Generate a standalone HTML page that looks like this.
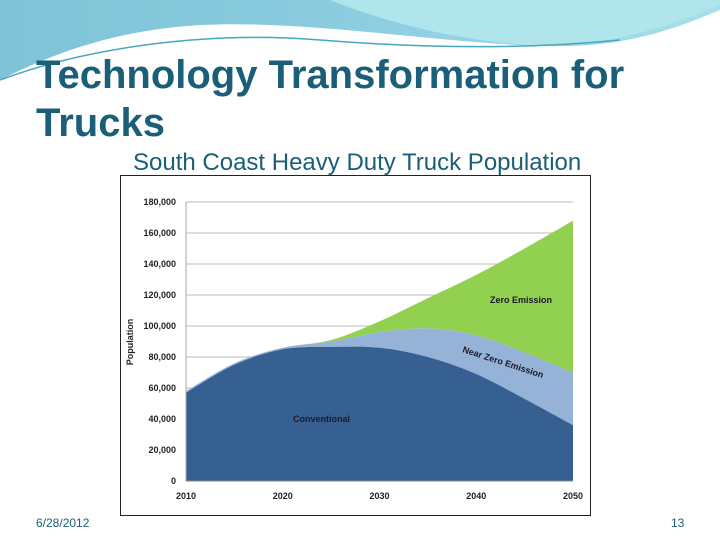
<!DOCTYPE html>
<html><head><meta charset="utf-8"><style>
body{margin:0;width:720px;height:540px;overflow:hidden;background:#fff;font-family:"Liberation Sans",sans-serif;position:relative}
#title{position:absolute;left:36px;top:51px;font-size:40px;font-weight:bold;color:#1b5e77;line-height:48px;margin:0}
#sub{position:absolute;left:133px;top:150px;font-size:24px;color:#1b5e77;line-height:26px}
.foot{position:absolute;top:516px;font-size:12px;color:#1b5e77}
</style></head><body>
<svg width="720" height="90" style="position:absolute;left:0;top:0">
<defs><linearGradient id="g1" x1="0" x2="1"><stop offset="0" stop-color="#7ec3d6"/><stop offset="0.5" stop-color="#8ccde0"/><stop offset="1" stop-color="#a6e0ea"/></linearGradient></defs>
<path d="M0 0H720V10C650 40 600 50 520 45C420 40 300 20 200 25C120 30 60 50 0 80Z" fill="url(#g1)"/>
<path d="M330 0C380 20 450 40 530 45C600 48 660 30 720 5V0Z" fill="#b0e5ec"/>
<path d="M0 80C80 50 200 30 320 40C420 48 520 50 620 40" stroke="#4aa6bf" fill="none" stroke-width="1.5"/>
</svg>
<h1 id="title">Technology Transformation for<br>Trucks</h1>
<div id="sub">South Coast Heavy Duty Truck Population</div>
<svg id="chart" width="720" height="540" style="position:absolute;left:0;top:0"></svg>
<div class="foot" style="left:36px">6/28/2012</div>
<div class="foot" style="left:671px">13</div>
<script>
const years=[2010,2015,2020,2025,2030,2035,2040,2045,2050];
const conventional=[57000,75000,85000,86500,86000,80000,69000,53000,36000];
const nearZero=[1000,1000,1000,3500,10000,18500,25000,30000,34000];
const zeroEmission=[0,0,0,1000,7000,19500,39000,67000,98000];
const yTicks=[0,20000,40000,60000,80000,100000,120000,140000,160000,180000];
const xTicks=[2010,2020,2030,2040,2050];
const NS="http://www.w3.org/2000/svg";
const svg=document.getElementById('chart');
const X=v=>186+(v-2010)*(573-186)/40;
const Y=v=>481-v*(481-202)/180000;
function mk(t,a,p){const e=document.createElementNS(NS,t);for(const k in a)e.setAttribute(k,a[k]);(p||svg).appendChild(e);return e;}
const box=mk('rect',{x:120.5,y:175.5,width:470,height:340,fill:'#fff',stroke:'#222'});


yTicks.forEach(v=>{if(v>0){const l=mk('line',{x1:186,x2:573,y1:Y(v),y2:Y(v),stroke:'#bbb'});

}
const t=mk('text',{x:176,y:Y(v)+3,'text-anchor':'end','font-size':9,'font-weight':'bold',fill:'#222'});t.textContent=v.toLocaleString('en-US');

});
function smooth(pts){let d='';for(let i=0;i<pts.length-1;i++){const p0=pts[i-1]||pts[i],p1=pts[i],p2=pts[i+1],p3=pts[i+2]||p2;
const c1=[p1[0]+(p2[0]-p0[0])/6,p1[1]+(p2[1]-p0[1])/6],c2=[p2[0]-(p3[0]-p1[0])/6,p2[1]-(p3[1]-p1[1])/6];
d+=` C${c1} ${c2} ${p2}`;}return d;}
const c1=conventional, c2=c1.map((v,i)=>v+nearZero[i]), c3=c2.map((v,i)=>v+zeroEmission[i]);
function area(top,bot,fill,name){const tp=years.map((y,i)=>[X(y),Y(top[i])]);const bp=years.map((y,i)=>[X(y),Y(bot[i])]).reverse();
const p=mk('path',{d:`M${tp[0]}${smooth(tp)} L${bp[0]}${smooth(bp)}Z`,fill});

}
const zero=years.map(()=>0);
area(c3,c2,'#92d050','area-zero-emission');
area(c2,c1,'#95b3d7','area-near-zero-emission');
area(c1,zero,'#376092','area-conventional');
mk('line',{x1:186,x2:186,y1:202,y2:481,stroke:'#aaa'});
mk('line',{x1:186,x2:573,y1:481,y2:481,stroke:'#888'});
xTicks.forEach(v=>{const t=mk('text',{x:X(v),y:499,'text-anchor':'middle','font-size':9,'font-weight':'bold',fill:'#222'});t.textContent=v;

});
const yt=mk('text',{x:0,y:0,transform:'translate(133,342) rotate(-90)','text-anchor':'middle','font-size':9,'font-weight':'bold',fill:'#222'});yt.textContent='Population';


function lab(txt,x,y,rot,name){const t=mk('text',{transform:`translate(${x},${y}) rotate(${rot})`,'font-size':9,'font-weight':'bold',fill:'#1a1a2a'});t.textContent=txt;

}
lab('Zero Emission',490,303,0,'label-zero-emission');
lab('Near Zero Emission',462,352,18,'label-near-zero-emission');
lab('Conventional',293,422,0,'label-conventional');
</script>
</body></html>
